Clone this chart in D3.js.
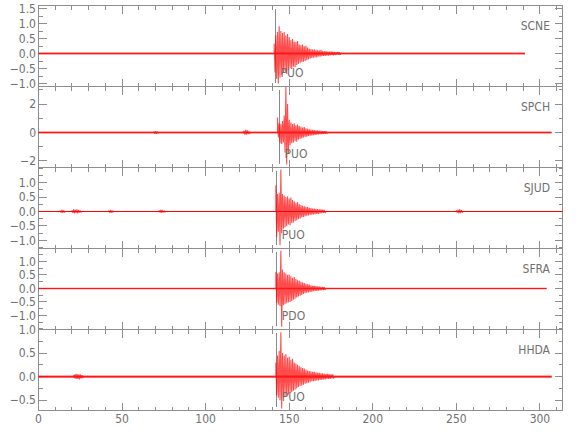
<!DOCTYPE html>
<html>
<head>
<meta charset="utf-8">
<style>
  body { margin: 0; background: #fff; }
  .frame, .tk { stroke: #8e8e8e; stroke-width: 1; fill: none; shape-rendering: crispEdges; }
  .lbl { font: 12px "Liberation Sans Narrow", "DejaVu Sans Condensed", sans-serif; fill: #707070; }
  .pick { stroke: #8a8a8a; stroke-width: 1; shape-rendering: crispEdges; }
</style>
<script src="https://cdn.jsdelivr.net/npm/d3@7"></script>
</head>
<body>
<script>
// stations, top to bottom
var stations = ["SCNE", "SPCH", "SJUD", "SFRA", "HHDA"];
var phases = ["PUO", "PUO", "PUO", "PDO", "PUO"];
var pickTimes = [141.2, 143.6, 142.0, 142.0, 142.0];
var traceEnd = [291, 307, 313.5, 304, 307];
var noiseLevel = [0.03, 0.07, 0.015, 0.03, 0.022];

// amplitude ranges and y ticks of each panel
var yDomains = [[-1.1, 1.6], [-2.46, 3.23], [-1.28, 1.52], [-1.52, 1.48], [-0.72, 1.0]];
var yMajor = [[-1, -0.5, 0, 0.5, 1, 1.5], [-2, 0, 2], [-1, -0.5, 0, 0.5, 1], [-1, -0.5, 0, 0.5, 1], [-0.5, 0, 0.5, 1]];
var yMinorStep = [0.25, 1, 0.25, 0.25, 0.25];
var yDecimals = [1, 0, 1, 1, 1];

// time axis (seconds)
var timeDomain = [0, 313.5];
var xLabels = [0, 50, 100, 150, 200, 250, 300];

// envelope of each record, one max and one min per second
var scneHi = [0.33, 0.6, 0.72, 0.91, 0.75, 0.68, 0.72, 0.6, 0.65, 0.55, 0.45, 0.48, 0.4, 0.38, 0.42, 0.3, 0.28, 0.3, 0.24, 0.26, 0.2, 0.16, 0.15, 0.13, 0.14, 0.12, 0.11, 0.1, 0.12, 0.08, 0.07, 0.08, 0.06, 0.06, 0.07, 0.05, 0.05, 0.04, 0.05, 0.04];
var scneLo = [-0.63, -0.85, -1.0, -0.8, -0.72, -0.65, -0.6, -0.68, -0.55, -0.5, -0.52, -0.44, -0.46, -0.38, -0.35, -0.32, -0.28, -0.27, -0.25, -0.22, -0.2, -0.17, -0.15, -0.14, -0.12, -0.13, -0.1, -0.11, -0.09, -0.08, -0.08, -0.07, -0.07, -0.06, -0.05, -0.06, -0.05, -0.04, -0.04, -0.04];

var spchHi = [1.05, 0.65, 0.6, 0.8, 1.2, 3.2, 2.0, 0.9, 0.7, 0.6, 0.65, 0.5, 0.55, 0.45, 0.4, 0.35, 0.38, 0.3, 0.25, 0.22, 0.2, 0.18, 0.16, 0.15, 0.14, 0.12, 0.12, 0.1, 0.1, 0.09];
var spchLo = [-0.35, -0.75, -0.8, -0.7, -1.4, -2.25, -1.5, -0.9, -0.75, -0.7, -0.6, -0.65, -0.5, -0.45, -0.42, -0.35, -0.32, -0.3, -0.25, -0.22, -0.2, -0.18, -0.17, -0.15, -0.13, -0.12, -0.11, -0.1, -0.1, -0.09];
var spchBurstHi = [0.05, 0.12, 0.18, 0.15, 0.08];
var spchBurstLo = [-0.06, -0.15, -0.16, -0.12, -0.07];
var spchBlipHi = [0.06, 0.1, 0.06];
var spchBlipLo = [-0.07, -0.09, -0.05];

var sjudHi = [0.9, 0.6, 0.65, 1.45, 0.6, 0.55, 0.5, 0.52, 0.45, 0.48, 0.4, 0.35, 0.3, 0.32, 0.25, 0.22, 0.2, 0.18, 0.16, 0.15, 0.13, 0.12, 0.1, 0.1, 0.09, 0.08, 0.07, 0.07, 0.06, 0.05];
var sjudLo = [-0.89, -0.7, -1.17, -0.75, -0.6, -0.55, -0.5, -0.45, -0.48, -0.4, -0.38, -0.33, -0.3, -0.27, -0.25, -0.2, -0.19, -0.17, -0.15, -0.14, -0.12, -0.11, -0.1, -0.09, -0.08, -0.08, -0.07, -0.06, -0.05, -0.05];
var sjudB1Hi = [0.03, 0.05, 0.04];
var sjudB1Lo = [-0.04, -0.05, -0.03];
var sjudB2Hi = [0.04, 0.07, 0.06, 0.07, 0.05, 0.03];
var sjudB2Lo = [-0.05, -0.07, -0.06, -0.07, -0.04, -0.03];
var sjudB3Hi = [0.03, 0.05, 0.04];
var sjudB3Lo = [-0.04, -0.05, -0.03];
var sjudB4Hi = [0.03, 0.05, 0.05, 0.03];
var sjudB4Lo = [-0.03, -0.05, -0.04, -0.03];
var sjudB5Hi = [0.04, 0.06, 0.07, 0.05];
var sjudB5Lo = [-0.04, -0.07, -0.06, -0.04];

var sfraHi = [0.62, 0.55, 0.6, 1.4, 0.7, 0.6, 0.55, 0.5, 0.52, 0.45, 0.4, 0.42, 0.35, 0.3, 0.28, 0.25, 0.22, 0.2, 0.17, 0.15, 0.14, 0.12, 0.1, 0.1, 0.09, 0.08, 0.07, 0.06, 0.06, 0.05];
var sfraLo = [-0.53, -0.6, -0.65, -1.42, -0.62, -0.58, -0.55, -0.52, -0.5, -0.46, -0.42, -0.38, -0.33, -0.3, -0.27, -0.24, -0.2, -0.18, -0.16, -0.15, -0.13, -0.12, -0.1, -0.09, -0.09, -0.08, -0.07, -0.06, -0.06, -0.05];

var hhdaHi = [0.3, 0.45, 0.55, 0.94, 0.5, 0.45, 0.48, 0.4, 0.42, 0.35, 0.38, 0.3, 0.28, 0.25, 0.22, 0.2, 0.18, 0.17, 0.15, 0.13, 0.12, 0.11, 0.1, 0.1, 0.09, 0.08, 0.08, 0.07, 0.07, 0.06, 0.06, 0.06, 0.05, 0.05, 0.05];
var hhdaLo = [-0.4, -0.45, -0.5, -0.68, -0.45, -0.42, -0.4, -0.38, -0.35, -0.33, -0.3, -0.28, -0.25, -0.22, -0.2, -0.19, -0.17, -0.15, -0.14, -0.13, -0.12, -0.1, -0.1, -0.09, -0.08, -0.08, -0.07, -0.07, -0.06, -0.06, -0.05, -0.05, -0.05, -0.04, -0.04];
var hhdaBurstHi = [0.03, 0.05, 0.06, 0.04, 0.05, 0.03];
var hhdaBurstLo = [-0.03, -0.05, -0.05, -0.06, -0.04, -0.03];

// segments of each trace: start second plus the envelope arrays
var segments = [
  [{start: 141, hi: scneHi, lo: scneLo}],
  [{start: 69, hi: spchBlipHi, lo: spchBlipLo},
   {start: 122, hi: spchBurstHi, lo: spchBurstLo},
   {start: 143, hi: spchHi, lo: spchLo}],
  [{start: 13, hi: sjudB1Hi, lo: sjudB1Lo},
   {start: 20, hi: sjudB2Hi, lo: sjudB2Lo},
   {start: 42, hi: sjudB3Hi, lo: sjudB3Lo},
   {start: 72, hi: sjudB4Hi, lo: sjudB4Lo},
   {start: 142, hi: sjudHi, lo: sjudLo},
   {start: 250, hi: sjudB5Hi, lo: sjudB5Lo}],
  [{start: 142, hi: sfraHi, lo: sfraLo}],
  [{start: 21, hi: hhdaBurstHi, lo: hhdaBurstLo},
   {start: 142, hi: hhdaHi, lo: hhdaLo}]
];

var width = 580, height = 440,
    panelTop = 5.5,
    panelHeight = 81;

var svg = d3.select("body").append("svg")
    .attr("width", width)
    .attr("height", height);

var x = d3.scaleLinear()
    .domain(timeDomain)
    .range([38.5, 562.5]);

var line = d3.line()
    .x(function(d) { return x(d[0]); });

stations.forEach(function(name, i) {
  var top = panelTop + i * panelHeight,
      bottom = top + panelHeight;

  var y = d3.scaleLinear()
      .domain(yDomains[i])
      .range([bottom, top]);

  line.y(function(d) { return y(d[1]); });

  var g = svg.append("g");

  // box
  g.append("rect")
      .attr("class", "frame")
      .attr("x", x.range()[0])
      .attr("y", top)
      .attr("width", x.range()[1] - x.range()[0])
      .attr("height", panelHeight);

  // time ticks on top and bottom, long every 50 s
  var xt = d3.range(0, timeDomain[1], 10);
  [top, bottom].forEach(function(edge, side) {
    var dir = side == 0 ? 1 : -1;
    g.selectAll(null)
        .data(xt)
      .enter().append("line")
        .attr("class", "tk")
        .attr("x1", function(d) { return x(d); })
        .attr("x2", function(d) { return x(d); })
        .attr("y1", edge)
        .attr("y2", function(d) { return edge + dir * (d % 50 == 0 ? 8 : 4); });
  });

  // amplitude ticks on left and right
  var d0 = yDomains[i][0], d1 = yDomains[i][1], step = yMinorStep[i];
  var yt = d3.range(Math.ceil(d0 / step) * step, d1, step);
  [x.range()[0], x.range()[1]].forEach(function(edge, side) {
    var dir = side == 0 ? 1 : -1;
    g.selectAll(null)
        .data(yt)
      .enter().append("line")
        .attr("class", "tk")
        .attr("x1", edge)
        .attr("x2", function(d) {
          var major = yMajor[i].some(function(m) { return Math.abs(m - d) < 1e-6; });
          return edge + dir * (major ? 8 : 4);
        })
        .attr("y1", function(d) { return y(d); })
        .attr("y2", function(d) { return y(d); });
  });

  var fmt = d3.format("." + yDecimals[i] + "f");
  g.selectAll(null)
      .data(yMajor[i])
    .enter().append("text")
      .attr("class", "lbl")
      .attr("x", 36)
      .attr("y", function(d) { return y(d); })
      .attr("dy", "0.36em")
      .attr("text-anchor", "end")
      .text(fmt);

  // phase pick
  g.append("line")
      .attr("class", "pick")
      .attr("x1", Math.round(x(pickTimes[i])) + 0.5)
      .attr("x2", Math.round(x(pickTimes[i])) + 0.5)
      .attr("y1", top + 3)
      .attr("y2", bottom - 4);

  // background noise band
  g.append("path")
      .attr("d", line([[0, 0], [traceEnd[i], 0]]))
      .attr("stroke", i == 2 ? "#d41010" : "#ff2020")
      .attr("stroke-opacity", i == 2 ? 1 : 0.8)
      .attr("stroke-width", Math.max(1, y(-noiseLevel[i]) - y(noiseLevel[i])))
      .attr("fill", "none");

  // the record: zig-zag between the max and min of every second
  var pts = [[0, 0]];
  segments[i].forEach(function(s) {
    pts.push([s.start, 0]);
    s.hi.forEach(function(h, k) {
      pts.push([s.start + k, h]);
      pts.push([s.start + k + 0.5, s.lo[k]]);
    });
    pts.push([s.start + s.hi.length, 0]);
  });
  pts.push([traceEnd[i], 0]);

  g.append("path")
      .attr("d", line(pts))
      .attr("stroke", "#ff0000")
      .attr("stroke-width", 1.1)
      .attr("stroke-opacity", 0.7)
      .attr("stroke-linejoin", "bevel")
      .attr("fill", "none");

  g.append("text")
      .attr("class", "lbl")
      .attr("x", x(pickTimes[i]) + 6)
      .attr("y", top + 71)
      .text(phases[i]);

  g.append("text")
      .attr("class", "lbl")
      .attr("x", 550)
      .attr("y", top + 24)
      .attr("text-anchor", "end")
      .text(name);
});

// time labels under the last panel
svg.selectAll(null)
    .data(xLabels)
  .enter().append("text")
    .attr("class", "lbl")
    .attr("x", function(d) { return x(d); })
    .attr("y", panelTop + 5 * panelHeight + 12)
    .attr("text-anchor", "middle")
    .text(function(d) { return d; });
</script>
</body>
</html>
